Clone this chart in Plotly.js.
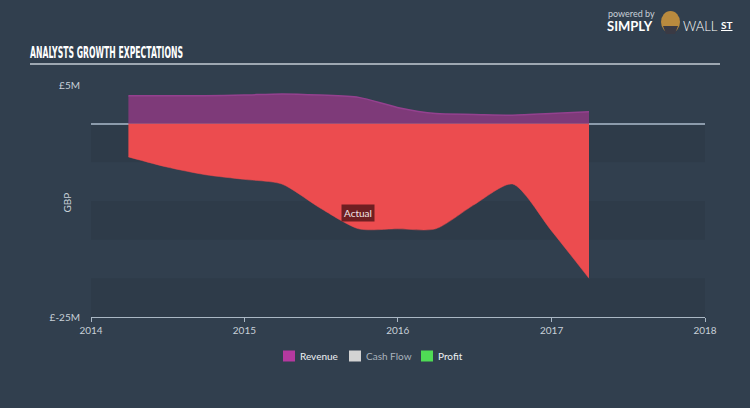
<!DOCTYPE html>
<html>
<head>
<meta charset="utf-8">
<script src="https://cdn.plot.ly/plotly-3.0.1.min.js"></script>
<style>
html,body{margin:0;padding:0;background:#313f4e;}
#chart{width:750px;height:408px;}
</style>
</head>
<body>
<div id="chart"></div>
<script>
// Data (GBP millions)
const dates = ["2014-03-31","2014-06-30","2014-09-30","2014-12-31","2015-03-31","2015-06-30","2015-09-30","2015-12-31","2016-03-31","2016-06-30","2016-09-30","2016-12-31","2017-03-31"];
const revenue = [3.6, 3.6, 3.6, 3.7, 3.85, 3.7, 3.4, 2.1, 1.3, 1.2, 1.1, 1.3, 1.55];
const profit = [-4.3, -5.6, -6.6, -7.2, -7.8, -10.9, -13.6, -13.6, -13.6, -10.5, -7.8, -13.8, -20.0];
const legendNames = ["Revenue", "Cash Flow", "Profit"];
const legendColors = ["#b5399f", "#d3d3d3", "#4fdc55"];
const legendTextColors = ["#eef1f3", "#aab3bc", "#eef1f3"];
const yTickVals = [5, -25];
const yTickText = ["£5M", "£-25M"];
const bandRanges = [[0, -5], [-10, -15], [-20, -25]];

// pixel helpers for layout placement (plot area: x 91..705, y 85..317)
const px = v => (v - 91) / 614;
const py = v => (317 - v) / 232;

const traces = [
  {
    x: dates, y: revenue, type: "scatter", mode: "lines",
    line: {shape: "spline", smoothing: 0.7, color: "#94418f", width: 1.5},
    fill: "tozeroy", fillcolor: "#7e3a79", showlegend: false, hoverinfo: "skip"
  },
  {
    x: dates, y: profit, type: "scatter", mode: "lines",
    line: {shape: "spline", smoothing: 0.7, color: "#ec4c4f", width: 0.5},
    fill: "tozeroy", fillcolor: "#ec4c4f", showlegend: false, hoverinfo: "skip"
  }
];

const shapes = bandRanges.map(b => ({
  type: "rect", xref: "paper", yref: "y", x0: 0, x1: 1, y0: b[0], y1: b[1],
  fillcolor: "rgba(0,0,0,0.06)", line: {width: 0}, layer: "below"
}));
shapes.push({type: "line", xref: "paper", yref: "paper", x0: px(30), x1: px(720), y0: py(64), y1: py(64),
  line: {color: "#c3ccd5", width: 1.5}});
// logo mark
shapes.push({type: "circle", xref: "paper", yref: "paper", x0: px(661), x1: px(680), y0: py(33), y1: py(11),
  fillcolor: "#b98a3e", line: {width: 0}});
shapes.push({type: "path", xref: "paper", yref: "paper",
  path: `M ${px(663)} ${py(26)} L ${px(678)} ${py(26)} L ${px(675)} ${py(34)} L ${px(666)} ${py(34)} Z`,
  fillcolor: "#3a3a44", line: {width: 0}});

const fontFam = "Lato, 'Open Sans', sans-serif";
const annotations = [
  {text: "Actual", x: "2015-09-28", y: -11.5, xref: "x", yref: "y", showarrow: false,
   bgcolor: "#6e1f22", borderpad: 2, font: {family: fontFam, size: 10, color: "#f2e6e6"}},
  {text: "GBP", xref: "paper", yref: "paper", x: px(66.5), y: py(203), xanchor: "center", yanchor: "middle",
   textangle: -90, showarrow: false, font: {family: fontFam, size: 10, color: "#c8d0d8"}},
  {text: "powered by", xref: "paper", yref: "paper", x: px(606), y: py(14), xanchor: "left", yanchor: "middle", showarrow: false,
   font: {family: fontFam, size: 9, color: "#c8d0d8"}},
  {text: "SIMPLY", xref: "paper", yref: "paper", x: px(605), y: py(26), xanchor: "left", yanchor: "middle", showarrow: false,
   font: {family: fontFam, size: 13, color: "#ffffff", weight: "bold"}},
  {text: "WALL", xref: "paper", yref: "paper", x: px(681), y: py(26), xanchor: "left", yanchor: "middle", showarrow: false,
   font: {family: fontFam, size: 13, color: "#ffffff", weight: 300}},
  {text: "<u>ST</u>", xref: "paper", yref: "paper", x: px(719), y: py(25), xanchor: "left", yanchor: "middle", showarrow: false,
   font: {family: fontFam, size: 10, color: "#ffffff", weight: "bold"}}
];

// manual legend
const swatchX = [283, 349, 421];
legendNames.forEach((n, i) => {
  shapes.push({type: "rect", xref: "paper", yref: "paper", x0: px(swatchX[i]), x1: px(swatchX[i] + 12),
    y0: py(361.5), y1: py(350.5), fillcolor: legendColors[i], line: {width: 0}});
  annotations.push({text: n, xref: "paper", yref: "paper", x: px(swatchX[i] + 15), y: py(356),
    xanchor: "left", yanchor: "middle", showarrow: false,
    font: {family: fontFam, size: 10, color: legendTextColors[i]}});
});

const layout = {
  width: 750, height: 408,
  paper_bgcolor: "#313f4e", plot_bgcolor: "rgba(0,0,0,0)",
  margin: {l: 91, r: 45, t: 85, b: 91},
  font: {family: fontFam, color: "#c8d0d8", size: 10},
  title: {text: "ANALYSTS GROWTH EXPECTATIONS", xref: "container", yref: "container",
    x: 30 / 750, xanchor: "left", y: 1 - 53 / 408, yanchor: "middle",
    font: {family: "'DejaVu Sans', sans-serif", size: 15, color: "#ffffff", weight: "bold"}},
  xaxis: {
    type: "date", range: ["2014-01-01", "2018-01-01"], dtick: "M12", tick0: "2014-01-01", tickformat: "%Y",
    showgrid: false, zeroline: false, showline: true, linecolor: "#aab7c4", linewidth: 1,
    ticks: "outside", ticklen: 4, tickcolor: "#aab7c4",
    tickfont: {family: fontFam, size: 10, color: "#c8d0d8"}, fixedrange: true
  },
  yaxis: {
    range: [-25, 5], tickvals: yTickVals, ticktext: yTickText,
    showgrid: false, zeroline: true, zerolinecolor: "#8c9bab", zerolinewidth: 2,
    ticks: "outside", ticklen: 8, tickcolor: "rgba(0,0,0,0)",
    tickfont: {family: fontFam, size: 10, color: "#c8d0d8"}, fixedrange: true
  },
  showlegend: false,
  shapes: shapes,
  annotations: annotations
};

Plotly.newPlot("chart", traces, layout, {displayModeBar: false, staticPlot: true}).then(gd => {
  const t = gd.querySelector(".gtitle");
  if (t) {
    t.setAttribute("textLength", "153");
    t.setAttribute("lengthAdjust", "spacingAndGlyphs");
  }
});
</script>
</body>
</html>
